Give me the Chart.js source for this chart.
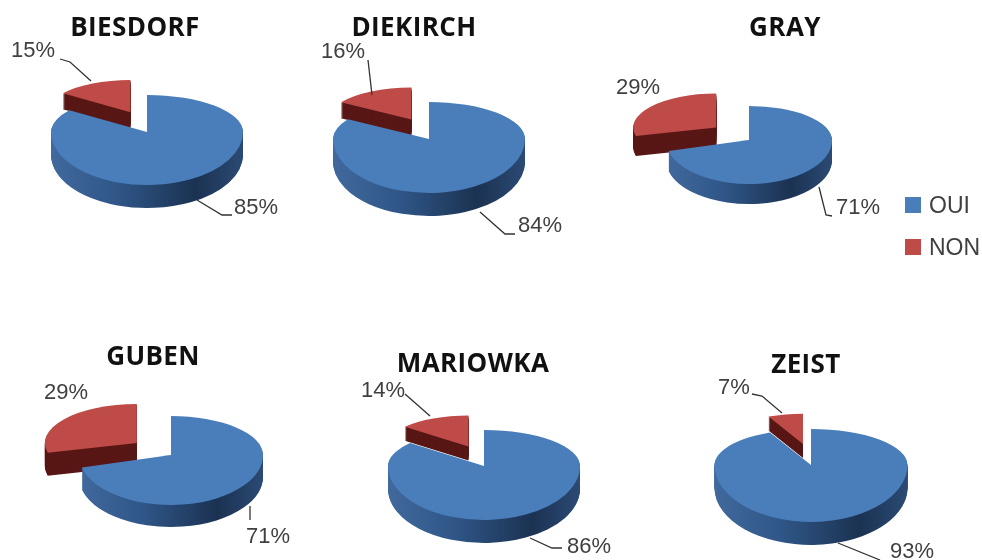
<!DOCTYPE html>
<html lang="fr">
<head>
  <meta charset="UTF-8">
  <title>OUI / NON par ville</title>
  <script src="https://cdn.jsdelivr.net/npm/chart.js"></script>
  <style>
    html, body { margin: 0; padding: 0; background: #fff; }
    #page { position: relative; width: 982px; height: 560px; overflow: hidden; filter: blur(0.4px); }
    #page canvas { position: absolute; left: 0; top: 0; }
    .key { position: absolute; left: 905px; width: 77px; height: 16px; font: 23px 'Liberation Sans', sans-serif; color: #404040; line-height: 16px; white-space: nowrap; }
    .key i { display: inline-block; width: 16px; height: 16px; margin-right: 8px; vertical-align: top; }
  </style>
</head>
<body>
  <div id="page">
    <div class="key" style="top:197px"><i style="background:#4a7ebb"></i>OUI</div>
    <div class="key" style="top:239px"><i style="background:#be4b48"></i>NON</div>
  </div>

  <script>
    const cities = ['BIESDORF', 'DIEKIRCH', 'GRAY', 'GUBEN', 'MARIOWKA', 'ZEIST'];
    const ouiValues = [85, 84, 71, 71, 86, 93];
    const nonValues = [15, 16, 29, 29, 14, 7];

    // layout of each pie on the page
    const centerX = [147, 429, 749, 171, 484, 811];
    const centerY = [132, 139, 140, 455, 466, 465];
    const radii = [96, 96, 83, 92, 96, 96.5];
    const depths = [23, 23, 20, 22, 23, 23];
    const nonDepths = [16, 16, 20, 23, 14, 14];
    // far half of the pie is flatter than the near half (fake perspective)
    const upperTilt = [0.385, 0.385, 0.41, 0.424, 0.375, 0.373];
    const lowerTilt = [0.552, 0.5625, 0.53, 0.543, 0.5625, 0.59];
    const nonRadius = [0.87, 0.87, 1, 1, 0.86, 0.84];
    const explodeX = [0.38, 0.38, 0.5, 0.47, 0.38, 0.38];
    const explodeY = [0.6, 0.6, 0.6, 0.5, 0.6, 0.6];
    const titleX = [135, 414, 785, 153, 473, 806];
    const titleY = [29, 29, 29, 358, 365, 366];
    const nonLabelX = [33, 343, 638, 66, 383, 734];
    const nonLabelY = [51, 52, 88, 393, 391, 388];
    const ouiLabelX = [256, 540, 858, 268, 589, 912];
    const ouiLabelY = [208, 226, 208, 537, 547, 552];
    const nonLeaders = [
      [[60, 59], [70, 62], [91, 81]],
      [[368, 60], [372, 95]],
      [],
      [],
      [[405, 394], [430, 416]],
      [[752, 394], [762, 396], [782, 413]]
    ];
    const ouiLeaders = [
      [[197, 200], [222, 215], [232, 215]],
      [[480, 212], [505, 234], [515, 234]],
      [[819, 187], [826, 215], [832, 216]],
      [[250, 506], [250, 520]],
      [[530, 538], [552, 548], [562, 548]],
      [[838, 543], [880, 560]]
    ];

    // draws one library arc, its upper and lower part squashed separately
    function drawTilted(ctx, arc, opts, dy, fill) {
      const saved = arc.options;
      arc.options = Object.assign({}, saved, { backgroundColor: fill, borderWidth: 0 });
      const px = opts.cx, py = opts.cy + dy;
      [[0, py + 0.5, opts.upper], [py, 560 - py, opts.lower]].forEach(band => {
        ctx.save();
        ctx.beginPath();
        ctx.rect(0, band[0], 982, band[1]);
        ctx.clip();
        ctx.translate(px, py);
        ctx.scale(1, band[2]);
        ctx.translate(-px, -opts.cy);
        arc.draw(ctx);
        ctx.restore();
      });
      arc.options = saved;
    }

    const pie3d = {
      id: 'pie3d',
      afterDatasetsUpdate(chart, args, opts) {
        const non = chart.getDatasetMeta(0).data[0];
        const r = non.outerRadius;
        const mid = (non.startAngle + non.endAngle) / 2;
        non.x += Math.cos(mid) * r * opts.explodeX;
        non.y += Math.sin(mid) * r * opts.explodeY;
        non.outerRadius = r * opts.nonRadius;
      },
      // the arcs are drawn here, in the order walls first then faces
      beforeDatasetsDraw(chart, args, opts) {
        const ctx = chart.ctx;
        const [non, oui] = chart.getDatasetMeta(0).data;
        const r = oui.outerRadius;
        const flat = Object.assign({ cx: oui.x, cy: oui.y }, opts);

        const wall = ctx.createLinearGradient(oui.x - r, 0, oui.x + r, 0);
        wall.addColorStop(0, '#41699d');
        wall.addColorStop(0.35, '#2f5687');
        wall.addColorStop(0.75, '#1b3252');
        wall.addColorStop(1, '#2b4a74');

        for (let d = opts.nonDepth; d >= 1; d--) drawTilted(ctx, non, flat, d, '#581715');
        for (let d = opts.depth; d >= 1; d--) drawTilted(ctx, oui, flat, d, wall);
        drawTilted(ctx, non, flat, 0, non.options.backgroundColor);
        drawTilted(ctx, oui, flat, 0, oui.options.backgroundColor);
        return false;
      },
      afterDraw(chart, args, opts) {
        const ctx = chart.ctx;
        ctx.save();
        ctx.fillStyle = '#111';
        ctx.font = "bold 26px 'Open Sans', sans-serif";
        ctx.letterSpacing = '0.4px';
        ctx.textAlign = 'center';
        ctx.textBaseline = 'middle';
        ctx.fillText(opts.title, opts.titleX, opts.titleY);

        ctx.letterSpacing = '0px';
        ctx.fillStyle = '#404040';
        ctx.font = "22px 'Liberation Sans', sans-serif";
        opts.labels.forEach(l => ctx.fillText(l.text, l.x, l.y));

        ctx.strokeStyle = '#333';
        ctx.lineWidth = 1.3;
        opts.leaders.forEach(line => {
          ctx.beginPath();
          line.forEach((p, i) => i ? ctx.lineTo(p[0], p[1]) : ctx.moveTo(p[0], p[1]));
          ctx.stroke();
        });
        ctx.restore();
      }
    };

    const page = document.getElementById('page');

    cities.forEach((city, i) => {
      const canvas = document.createElement('canvas');
      canvas.width = 982;
      canvas.height = 560;
      page.appendChild(canvas);

      const half = 20;
      new Chart(canvas, {
        type: 'pie',
        data: {
          labels: ['NON', 'OUI'],
          datasets: [{
            data: [nonValues[i], ouiValues[i]],
            backgroundColor: ['#be4b48', '#4a7ebb'],
            borderWidth: 0
          }]
        },
        options: {
          responsive: false,
          animation: false,
          events: [],
          radius: radii[i],
          rotation: -360 * nonValues[i] / (nonValues[i] + ouiValues[i]),
          layout: {
            padding: {
              left: centerX[i] - half,
              right: 982 - centerX[i] - half,
              top: centerY[i] - half,
              bottom: 560 - centerY[i] - half
            }
          },
          plugins: {
            legend: { display: false },
            tooltip: { enabled: false },
            pie3d: {
              depth: depths[i],
              nonDepth: nonDepths[i],
              upper: upperTilt[i],
              lower: lowerTilt[i],
              nonRadius: nonRadius[i],
              explodeX: explodeX[i],
              explodeY: explodeY[i],
              title: city,
              titleX: titleX[i],
              titleY: titleY[i],
              labels: [
                { text: nonValues[i] + '%', x: nonLabelX[i], y: nonLabelY[i] },
                { text: ouiValues[i] + '%', x: ouiLabelX[i], y: ouiLabelY[i] }
              ],
              leaders: nonLeaders[i].length ? [nonLeaders[i], ouiLeaders[i]] : [ouiLeaders[i]]
            }
          }
        },
        plugins: [pie3d]
      });
    });
  </script>
</body>
</html>
